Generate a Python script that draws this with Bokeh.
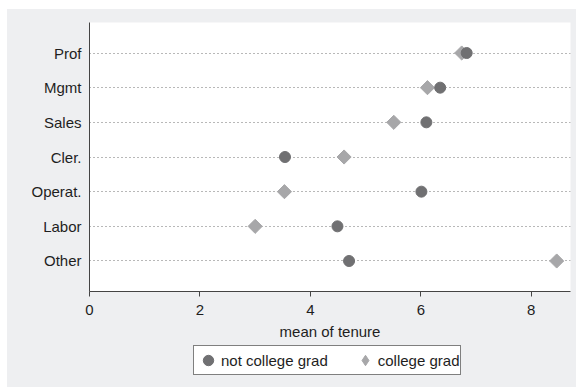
from bokeh.plotting import figure
from bokeh.models import FactorRange, Range1d, Legend, LegendItem, FixedTicker
from bokeh.layouts import column
from bokeh.embed import file_html
from bokeh.resources import INLINE
import math

categories = ["Prof", "Mgmt", "Sales", "Cler.", "Operat.", "Labor", "Other"]
not_college = [6.83, 6.35, 6.10, 3.54, 6.01, 4.49, 4.70]
college = [6.74, 6.12, 5.51, 4.61, 3.53, 3.00, 8.46]
x_ticks = [0, 2, 4, 6, 8]
series_labels = ["not college grad", "college grad"]

FONT = "Liberation Sans"
FS = "15px"
DARK = "#707072"
LIGHT = "#a7a7a9"
BG = "#eeeff1"
TXT = "#1e1e1e"

p = figure(width=569, height=336, output_backend="svg", toolbar_location=None,
           y_range=FactorRange(factors=categories[::-1], range_padding=0.38,
                               range_padding_units="absolute"),
           x_range=Range1d(0, 8.71),
           min_border_left=82, min_border_top=13, min_border_right=6,
           min_border_bottom=54)

p.background_fill_color = "white"
p.border_fill_color = BG
p.outline_line_color = None

p.scatter(college, categories, marker="square", size=10, angle=math.pi / 4,
          fill_color=LIGHT, line_color=LIGHT)
p.scatter(not_college, categories, marker="circle", size=11,
          fill_color=DARK, line_color=DARK)

p.xgrid.grid_line_color = None
p.ygrid.grid_line_color = "#707070"
p.ygrid.grid_line_dash = "1 3"
p.ygrid.grid_line_width = 1

p.xaxis.ticker = FixedTicker(ticks=x_ticks)
p.xaxis.axis_label = "mean of tenure"
p.xaxis.minor_tick_line_color = None
p.xaxis.major_tick_out = 5
p.xaxis.major_tick_in = 0
p.xaxis.major_label_standoff = 8
p.xaxis.axis_label_standoff = 5

p.yaxis.major_tick_out = 0
p.yaxis.major_tick_in = 0
p.yaxis.major_label_standoff = 8

for ax in [p.xaxis[0], p.yaxis[0]]:
    ax.axis_line_color = "#444444"
    ax.major_tick_line_color = "#444444"
    ax.major_label_text_font = FONT
    ax.major_label_text_font_size = FS
    ax.major_label_text_color = TXT
    ax.axis_label_text_font = FONT
    ax.axis_label_text_font_size = FS
    ax.axis_label_text_font_style = "normal"
    ax.axis_label_text_color = TXT

# legend strip below the plot (same grey background)
lf = figure(width=569, height=42, output_backend="svg", toolbar_location=None,
            x_range=Range1d(0, 1),
            y_range=FactorRange(factors=categories[::-1]),
            min_border=0, x_axis_type=None, y_axis_type=None)
lf.background_fill_color = BG
lf.background_fill_alpha = 0
lf.border_fill_color = BG
lf.outline_line_color = None
lf.grid.grid_line_color = None
k1 = lf.scatter(not_college, categories, marker="circle",
                fill_color=DARK, line_color=DARK, visible=False)
k2 = lf.scatter(college, categories, marker="diamond",
                fill_color=LIGHT, line_color=LIGHT, visible=False)

legend = Legend(items=[LegendItem(label=series_labels[0], renderers=[k1]),
                       LegendItem(label=series_labels[1], renderers=[k2])],
                orientation="horizontal", location=(104, 12),
                border_line_color="black", border_line_width=1,
                background_fill_color="white", background_fill_alpha=1,
                inactive_fill_alpha=0,
                label_text_font=FONT, label_text_font_size=FS,
                label_text_color=TXT,
                glyph_width=26, glyph_height=26, label_height=15,
                label_standoff=0, spacing=24, padding=1, margin=0)
lf.add_layout(legend, "center")

layout = column(p, lf, spacing=0, margin=(9, 0, 0, 7),
                styles={"background-color": BG})

open("out.html", "w").write(file_html(layout, INLINE))
